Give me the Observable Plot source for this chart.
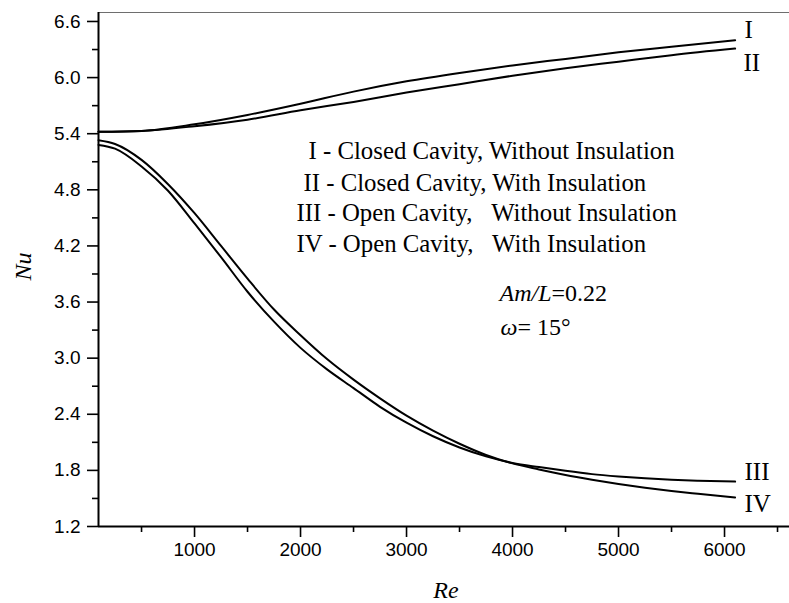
<!DOCTYPE html>
<html>
<head>
<meta charset="utf-8">
<script src="https://cdn.jsdelivr.net/npm/d3@7"></script>
<script src="https://cdn.jsdelivr.net/npm/@observablehq/plot@0.6"></script>
<style>
  html, body { margin: 0; padding: 0; background: #fff; }
  #chart svg { display: block; }
</style>
</head>
<body>
<div id="chart"></div>
<script>
// ---- data ----
const seriesNames = ["I", "II", "III", "IV"];

const reI  = [94, 500, 1000, 1500, 2000, 2500, 3000, 3500, 4000, 4500, 5000, 5500, 6100];
const nuI  = [5.42, 5.43, 5.50, 5.60, 5.72, 5.85, 5.96, 6.05, 6.13, 6.20, 6.27, 6.33, 6.40];

const reII = [94, 500, 1000, 1500, 2000, 2500, 3000, 3500, 4000, 4500, 5000, 5500, 6100];
const nuII = [5.42, 5.43, 5.48, 5.55, 5.65, 5.74, 5.84, 5.93, 6.02, 6.10, 6.17, 6.24, 6.31];

const reIII = [94, 250, 500, 750, 1000, 1250, 1500, 1750, 2000, 2250, 2500, 2750, 3000, 3250, 3500, 3750, 4000, 4250, 4500, 4750, 5000, 5250, 5500, 5750, 6100];
const nuIII = [5.28, 5.24, 5.05, 4.79, 4.44, 4.08, 3.71, 3.39, 3.11, 2.88, 2.68, 2.48, 2.31, 2.165, 2.045, 1.95, 1.88, 1.835, 1.795, 1.76, 1.735, 1.715, 1.70, 1.69, 1.68];

const reIV = [94, 250, 500, 750, 1000, 1250, 1500, 1750, 2000, 2250, 2500, 2750, 3000, 3250, 3500, 3750, 4000, 4250, 4500, 4750, 5000, 5250, 5500, 5750, 6100];
const nuIV = [5.33, 5.29, 5.12, 4.86, 4.55, 4.20, 3.85, 3.52, 3.245, 2.99, 2.77, 2.57, 2.385, 2.225, 2.085, 1.965, 1.875, 1.81, 1.75, 1.70, 1.655, 1.615, 1.58, 1.55, 1.51];

const xMajorTicks = [1000, 2000, 3000, 4000, 5000, 6000];
const xMinorTicks = [500, 1500, 2500, 3500, 4500, 5500, 6500];
const yMajorTicks = [1.2, 1.8, 2.4, 3.0, 3.6, 4.2, 4.8, 5.4, 6.0, 6.6];
const yMinorTicks = [1.5, 2.1, 2.7, 3.3, 3.9, 4.5, 5.1, 5.7, 6.3];

const legendLines = [
  "I - Closed Cavity, Without Insulation",
  "II - Closed Cavity, With Insulation",
  "III - Open Cavity,\u00A0\u00A0\u00A0Without Insulation",
  "IV - Open Cavity,\u00A0\u00A0\u00A0With Insulation"
];
const xTitle = "Re";
const yTitle = "Nu";
const paramItalic = ["Am/L", "\u03C9"];
const paramRest = ["=0.22", "= 15\u00B0"];

// ---- build table ----
const rows = [];
[[reI, nuI], [reII, nuII], [reIII, nuIII], [reIV, nuIV]].forEach(([re, nu], k) => {
  re.forEach((r, i) => rows.push({series: seriesNames[k], re: r, nu: nu[i]}));
});

// ---- layout ----
const W = 789, H = 603;
const mL = 98, mR = 0, mT = 12, mB = 77;
const xDom = [94, 6613];
const yDom = [1.2, 6.696];
const sans = "'Liberation Sans', Arial, sans-serif";
const serif = "'Liberation Serif', 'Times New Roman', serif";

const legendPos = [[210, 146], [205, 178], [198, 208], [198, 239]];
const seriesLabelPos = [[646, 25], [645, 58.7], [646, 467.3], [646, 499.7]];
const paramPos = [[401, 288], [402, 322]];

const textCommon = {frameAnchor: "top-left", textAnchor: "start", lineAnchor: "bottom",
  fontFamily: serif, fill: "#000"};

const marks = [
  Plot.ruleY([yDom[1]], {stroke: "#6e6e6e", strokeWidth: 1}),
  Plot.axisX(xMinorTicks, {tickSize: 6, tickFormat: () => "", label: null, strokeWidth: 1.6}),
  Plot.axisX(xMajorTicks, {tickSize: 11, tickPadding: 5, tickFormat: d => String(d), label: null,
    fontSize: 19, fontFamily: sans, strokeWidth: 1.6}),
  Plot.axisY(yMinorTicks, {tickSize: 6, tickFormat: () => "", label: null, strokeWidth: 1.6}),
  Plot.axisY(yMajorTicks, {tickSize: 11, tickPadding: 7, tickFormat: d => d.toFixed(1), label: null,
    fontSize: 19, fontFamily: sans, strokeWidth: 1.6}),
  Plot.ruleX([xDom[0]], {stroke: "#000", strokeWidth: 2}),
  Plot.ruleY([yDom[0]], {stroke: "#000", strokeWidth: 2}),
  Plot.line(rows, {x: "re", y: "nu", z: "series", stroke: "#000", strokeWidth: 2, curve: "monotone-x"}),
  Plot.text([yTitle], {text: d => d, frameAnchor: "left", dx: -75, dy: 11, rotate: -90,
    fontStyle: "italic", fontFamily: serif, fontSize: 24, fill: "#000"}),
  Plot.text([xTitle], {text: d => d, frameAnchor: "bottom", dx: 2, dy: 71, lineAnchor: "bottom",
    fontStyle: "italic", fontFamily: serif, fontSize: 24, fill: "#000"})
];
legendLines.forEach((t, i) => {
  marks.push(Plot.text([t], {...textCommon, text: d => d, dx: legendPos[i][0], dy: legendPos[i][1], fontSize: 24.8}));
});
seriesNames.forEach((t, i) => {
  marks.push(Plot.text([t], {...textCommon, text: d => d, dx: seriesLabelPos[i][0], dy: seriesLabelPos[i][1], fontSize: 25}));
});
paramItalic.forEach((t, i) => {
  marks.push(Plot.text([t + paramRest[i]], {...textCommon, text: d => d, dx: paramPos[i][0], dy: paramPos[i][1], fontSize: 24}));
});

const chart = Plot.plot({
  width: W, height: H,
  marginLeft: mL, marginRight: mR, marginTop: mT, marginBottom: mB,
  x: {domain: xDom, label: null},
  y: {domain: yDom, label: null},
  style: {background: "#fff", color: "#000", overflow: "visible"},
  marks
});

// italic prefix for the parameter annotations
const NS = "http://www.w3.org/2000/svg";
chart.querySelectorAll("text").forEach(t => {
  paramItalic.forEach((p, i) => {
    if (t.textContent === p + paramRest[i]) {
      t.textContent = "";
      const a = document.createElementNS(NS, "tspan");
      a.setAttribute("font-style", "italic");
      a.textContent = p;
      const b = document.createElementNS(NS, "tspan");
      b.textContent = paramRest[i];
      t.appendChild(a); t.appendChild(b);
    }
  });
});

document.getElementById("chart").appendChild(chart);
</script>
</body>
</html>
